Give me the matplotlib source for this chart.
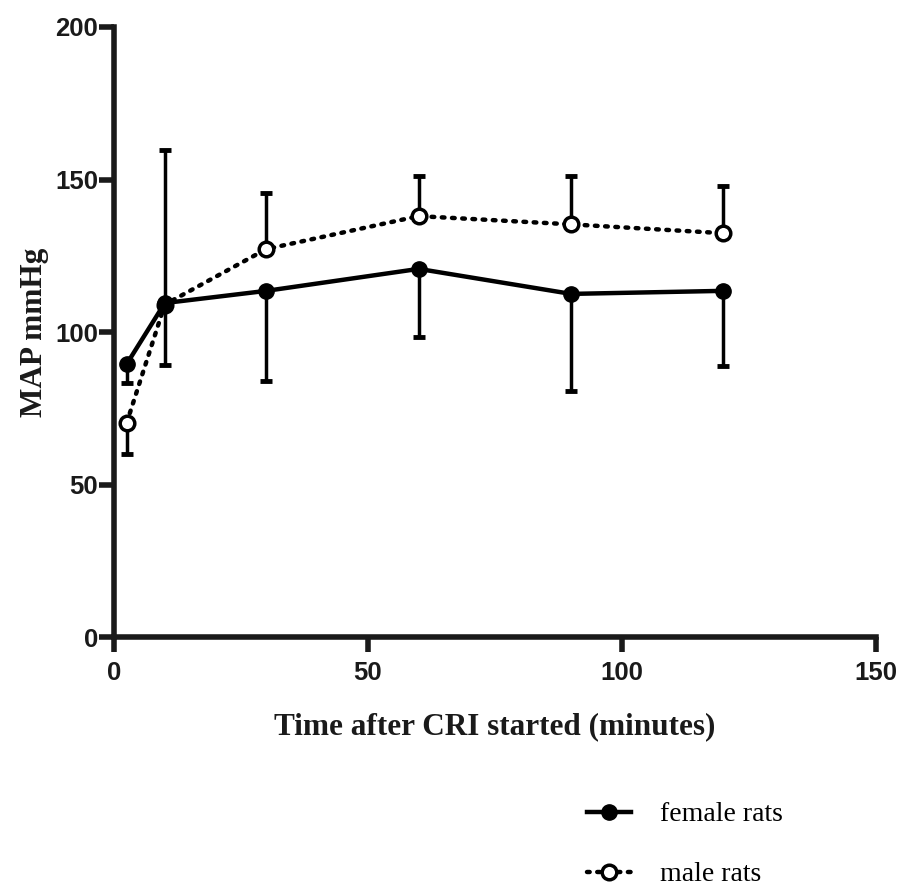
import numpy as np
import matplotlib.pyplot as plt
from matplotlib.lines import Line2D

# time points (minutes)
time_min = [2.5, 10, 30, 60, 90, 120]

# female rats: mean and lower error
female_map = [89.5, 109.5, 113.5, 120.7, 112.5, 113.5]
female_err_lo = [6.2, 20.3, 29.5, 22.3, 31.8, 24.6]
female_err_hi = [0, 0, 0, 0, 0, 0]

# male rats: mean and error (down at first point, up elsewhere)
male_map = [70.2, 109.0, 127.2, 138.0, 135.3, 132.4]
male_err_lo = [10.2, 0, 0, 0, 0, 0]
male_err_hi = [0, 50.7, 18.4, 13.0, 15.7, 15.4]

xticks = [0, 50, 100, 150]
yticks = [0, 50, 100, 150, 200]

fig = plt.figure(figsize=(9.01, 8.91), dpi=100)
ax = fig.add_axes([0.1265, 0.285, 0.8455, 0.6847])

sans = ["Liberation Sans", "DejaVu Sans"]
serif = ["Liberation Serif", "DejaVu Serif"]
dots = (0, (0.6, 1.7))

ax.errorbar(time_min, female_map, yerr=[female_err_lo, female_err_hi],
            fmt="none", ecolor="black", elinewidth=2.5, capsize=4,
            capthick=3.5, clip_on=False, zorder=2)
ax.errorbar(time_min, male_map, yerr=[male_err_lo, male_err_hi],
            fmt="none", ecolor="black", elinewidth=2.5, capsize=4,
            capthick=3.5, clip_on=False, zorder=2)

ax.plot(time_min, female_map, color="black", lw=3.2, marker="o", ms=11,
        mfc="black", mec="black", clip_on=False, zorder=4)
ax.plot(time_min, male_map, color="black", lw=3.2, ls=dots,
        dash_capstyle="round", marker="o", ms=10.5, mfc="white", mec="black",
        mew=2.5, clip_on=False, zorder=3)

ax.set_xlim(0, 150)
ax.set_ylim(0, 200)
ax.set_xticks(xticks)
ax.set_yticks(yticks)

for side in ["top", "right"]:
    ax.spines[side].set_visible(False)
for side in ["left", "bottom"]:
    ax.spines[side].set_linewidth(4)
    ax.spines[side].set_color("#1a1a1a")

ax.tick_params(axis="both", direction="out", length=11, width=4,
               color="#1a1a1a")
ax.tick_params(axis="x", pad=6)
ax.tick_params(axis="y", pad=0.5)
for lab in ax.get_xticklabels() + ax.get_yticklabels():
    lab.set_fontfamily(sans)
    lab.set_fontweight("bold")
    lab.set_fontsize(18.5)
    lab.set_color("#1a1a1a")

ax.set_xlabel("Time after CRI started (minutes)", fontfamily=serif,
              fontweight="bold", fontsize=22.5, labelpad=20,
              color="#1a1a1a")
ax.set_ylabel("MAP mmHg", fontfamily=serif, fontweight="bold",
              fontsize=22.5, labelpad=4, color="#1a1a1a")

handles = [
    Line2D([], [], color="black", lw=3.2, marker="o", ms=11, mfc="black"),
    Line2D([], [], color="black", lw=3.2, ls=dots, dash_capstyle="round",
           marker="o", ms=10.5, mfc="white", mew=2.5),
]
fig.legend(handles, ["female rats", "male rats"], loc="center left",
           bbox_to_anchor=(0.651, 0.052), frameon=False, borderpad=0,
           borderaxespad=0, prop={"family": serif, "size": 20},
           handlelength=1.6, labelspacing=1.25, handletextpad=1.05)

fig.savefig("out.png", dpi=100)
